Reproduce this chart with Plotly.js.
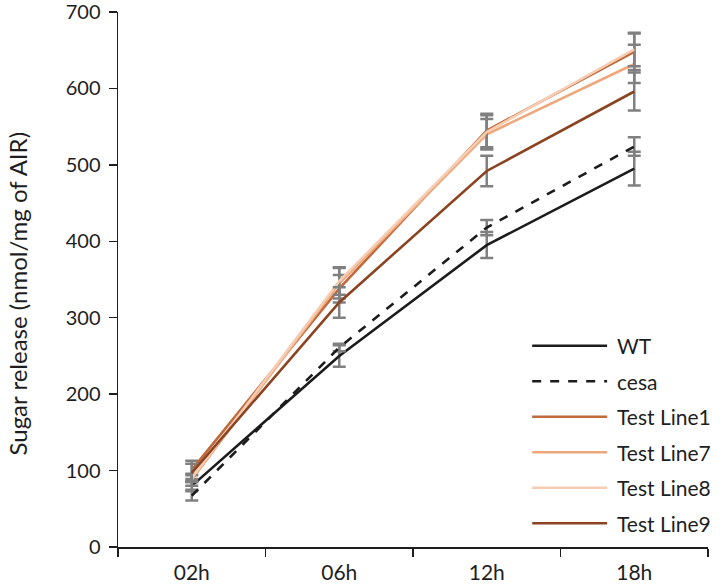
<!DOCTYPE html>
<html>
<head>
<meta charset="utf-8">
<script src="https://cdn.plot.ly/plotly-3.0.1.min.js"></script>
<style>
  html, body { margin: 0; padding: 0; background: #fff; }
  #chart { width: 720px; height: 588px; }
</style>
</head>
<body>
<div id="chart"></div>
<script>
// Sampling times
const timepoints = ['02h', '06h', '12h', '18h'];

// Sugar release per line (nmol/mg of AIR) and standard errors
const wt = [80, 250, 395, 495];
const wtErr = [5, 14, 17, 22];
const cesa = [67, 261, 418, 524];
const cesaErr = [6, 5, 10, 12];
const line1 = [101, 338, 545, 648];
const line1Err = [12, 18, 22, 24];
const line7 = [88, 345, 540, 632];
const line7Err = [8, 20, 20, 25];
const line8 = [90, 348, 543, 651];
const line8Err = [4, 18, 22, 22];
const line9 = [97, 320, 492, 596];
const line9Err = [12, 20, 20, 25];

// Y tick values
const yTicks = [0, 100, 200, 300, 400, 500, 600, 700];

const seriesNames = ['WT', 'cesa', 'Test Line1', 'Test Line7', 'Test Line8', 'Test Line9'];
const seriesValues = [wt, cesa, line1, line7, line8, line9];
const seriesErrors = [wtErr, cesaErr, line1Err, line7Err, line8Err, line9Err];
const seriesColors = ['#1c1c1c', '#1c1c1c', '#c0693c', '#eea77a', '#f6cdb2', '#8a4422'];
const seriesDash = ['solid', 'dash', 'solid', 'solid', 'solid', 'solid'];

const FONT = 'Lato, "Open Sans", sans-serif';
const INK = '#1e1e1e';

const traces = seriesNames.map((name, i) => ({
  type: 'scatter',
  mode: 'lines',
  name: name,
  x: timepoints,
  y: seriesValues[i],
  line: { color: seriesColors[i], width: 2.6, dash: seriesDash[i] },
  error_y: {
    type: 'data',
    array: seriesErrors[i],
    visible: true,
    color: '#808080',
    thickness: 2.5,
    width: 6.5
  },
  showlegend: false,
  hoverinfo: 'x+y+name'
}));

// Legend drawn as long line samples with labels, bottom-right of the plot
const legX0 = 0.702, legX1 = 0.829, legTextX = 0.842;
const legTop = 0.3763, legStep = 0.0664;
const shapes = [];
const annotations = [];
seriesNames.forEach((name, i) => {
  const y = legTop - i * legStep;
  shapes.push({
    type: 'line', xref: 'paper', yref: 'paper',
    x0: legX0, x1: legX1, y0: y, y1: y,
    line: { color: seriesColors[i], width: 2.6, dash: seriesDash[i] }
  });
  annotations.push({
    xref: 'paper', yref: 'paper', x: legTextX, y: y,
    xanchor: 'left', yanchor: 'middle', showarrow: false,
    text: name, font: { family: FONT, size: 21, color: INK }
  });
});

// Y axis title, rotated, at the far left
annotations.push({
  xref: 'paper', yref: 'paper', x: -0.171, y: 0.474,
  xanchor: 'center', yanchor: 'middle', showarrow: false,
  textangle: -90,
  text: 'Sugar release (nmol/mg of AIR)',
  font: { family: FONT, size: 24, color: INK }
});

const layout = {
  width: 720,
  height: 588,
  margin: { l: 118, r: 12, t: 12, b: 41 },
  paper_bgcolor: '#ffffff',
  plot_bgcolor: '#ffffff',
  font: { family: FONT, size: 21, color: INK },
  xaxis: {
    type: 'category',
    range: [-0.5, 3.5],
    tickson: 'boundaries',
    ticks: 'outside',
    ticklen: 8,
    tickwidth: 1.5,
    tickcolor: INK,
    showline: true,
    linecolor: INK,
    linewidth: 1.5,
    showgrid: false,
    zeroline: false,
    ticklabelstandoff: 6,
    tickfont: { family: FONT, size: 21, color: INK }
  },
  yaxis: {
    range: [0, 700],
    tickmode: 'array',
    tickvals: yTicks,
    ticktext: yTicks.map(String),
    ticks: 'outside',
    ticklen: 8,
    tickwidth: 1.5,
    tickcolor: INK,
    showline: true,
    linecolor: INK,
    linewidth: 1.5,
    showgrid: false,
    zeroline: false,
    ticklabelstandoff: 4,
    ticklabeloverflow: 'allow',
    tickfont: { family: FONT, size: 20, color: INK }
  },
  shapes: shapes,
  annotations: annotations
};

Plotly.newPlot('chart', traces, layout, { displayModeBar: false, staticPlot: true });
</script>
</body>
</html>
